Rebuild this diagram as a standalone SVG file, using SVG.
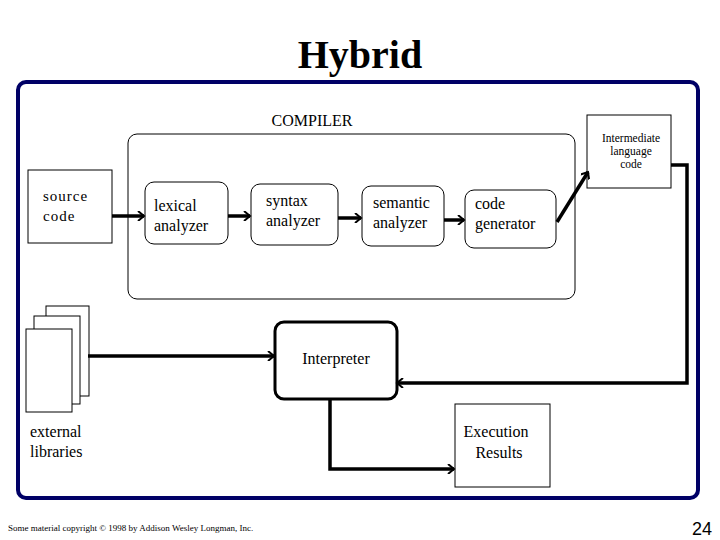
<svg xmlns="http://www.w3.org/2000/svg" width="720" height="540" viewBox="0 0 720 540">
<style>
.t{font-family:"Liberation Serif",serif;fill:#000}
.b{fill:#fff;stroke:#000;stroke-width:1}
.c{fill:none;stroke:#000;stroke-width:3.5}
</style>
<defs>
<marker id="a" markerWidth="10" markerHeight="10" refX="8" refY="5" orient="auto" markerUnits="userSpaceOnUse">
<path d="M2,0 L8,5 L2,10" fill="none" stroke="#000" stroke-width="2"/>
</marker>
</defs>
<rect width="720" height="540" fill="#fff"/>
<text class="t" x="360" y="68" font-size="40" font-weight="bold" text-anchor="middle">Hybrid</text>
<rect x="18" y="82" width="680" height="416" rx="8" fill="#fff" stroke="#000066" stroke-width="4"/>
<g id="compiler"><rect x="128" y="134" width="447" height="165" rx="9" class="b"/>
<text class="t" x="312" y="126" font-size="16" text-anchor="middle">COMPILER</text></g>
<g id="source"><rect x="28" y="170" width="84" height="73" class="b"/>
<text class="t" x="43" y="201" font-size="15" letter-spacing="1">source</text><text class="t" x="43" y="221" font-size="15" letter-spacing="1">code</text></g>
<g id="lexical"><rect x="145" y="182" width="83" height="62" rx="9" class="b"/>
<text class="t" x="154" y="211" font-size="16">lexical</text><text class="t" x="154" y="231" font-size="16">analyzer</text></g>
<g id="syntax"><rect x="251" y="184" width="87" height="61" rx="9" class="b"/>
<text class="t" x="266" y="206" font-size="16">syntax</text><text class="t" x="266" y="226" font-size="16">analyzer</text></g>
<g id="semantic"><rect x="362" y="186" width="82" height="60" rx="9" class="b"/>
<text class="t" x="373" y="208" font-size="16">semantic</text><text class="t" x="373" y="228" font-size="16">analyzer</text></g>
<g id="codegen"><rect x="465" y="190" width="91" height="58" rx="9" class="b"/>
<text class="t" x="475" y="209" font-size="16">code</text><text class="t" x="475" y="229" font-size="16">generator</text></g>
<g id="intermediate"><rect x="587" y="115" width="84" height="73" class="b"/>
<g class="t" font-size="11.5" text-anchor="middle"><text x="631" y="142">Intermediate</text><text x="631" y="155">language</text><text x="631" y="168">code</text></g></g>
<g id="libraries">
<rect x="46" y="306" width="43" height="90" class="b"/>
<rect x="34" y="316" width="46" height="88" class="b"/>
<rect x="26" y="329" width="46" height="83" class="b"/>
<text class="t" x="30" y="437" font-size="16">external</text><text class="t" x="30" y="457" font-size="16">libraries</text></g>
<g id="interpreter"><rect x="275" y="322" width="122" height="77" rx="9" fill="#fff" stroke="#000" stroke-width="3"/>
<text class="t" x="336" y="364" font-size="16" text-anchor="middle">Interpreter</text></g>
<g id="results"><rect x="455" y="404" width="95" height="83" class="b"/>
<text class="t" x="496" y="437" font-size="16" text-anchor="middle">Execution</text><text class="t" x="499" y="458" font-size="16" text-anchor="middle">Results</text></g>
<g id="connectors" class="c" marker-end="url(#a)">
<path d="M112,216 H144"/>
<path d="M228,216 H250"/>
<path d="M338,218 H361"/>
<path d="M444,220 H464"/>
<path d="M557,222 L588,172"/>
<path d="M671,165 H687 V383 H397"/>
<path d="M88,356 H274"/>
<path d="M330,399 V469 H454"/>
</g>
<text class="t" x="8" y="531" font-size="9">Some material copyright © 1998 by Addison Wesley Longman, Inc.</text>
<text x="712" y="535" font-family="Liberation Sans,sans-serif" font-size="18" text-anchor="end">24</text>
</svg>
